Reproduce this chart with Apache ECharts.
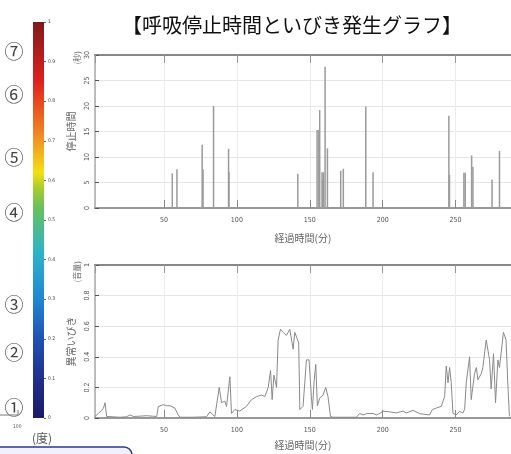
<!DOCTYPE html>
<html>
<head>
<meta charset="utf-8">
<script src="https://cdn.jsdelivr.net/npm/echarts@6/dist/echarts.min.js"></script>
<style>html,body{margin:0;padding:0;background:#fff;}#c{width:511px;height:454px;}</style>
</head>
<body>
<div id="c"></div>
<script>
// ---- data ----
const titleText = '【呼吸停止時間といびき発生グラフ】';
const apneaTime = [55.7, 58.9, 76.2, 76.8, 84.0, 94.3, 94.6, 141.8, 155.0, 156.2, 156.8, 158.4, 158.9, 159.4, 160.5, 162.1, 171.2, 173.0, 188.4, 193.4, 245.4, 245.8, 255.7, 256.6, 261.0, 261.9, 275.0, 280.1];
const apneaSec  = [6.8, 7.6, 12.4, 7.6, 20.0, 11.6, 7.0, 6.7, 15.3, 15.3, 19.2, 7.0, 5.6, 7.0, 27.7, 11.7, 7.3, 7.7, 19.9, 7.0, 18.1, 6.5, 6.9, 6.9, 10.3, 8.1, 5.6, 11.2];
const snoreTime = [2.7,5,7.3,8.5,9.6,10.7,11.9,20,24.4,26.7,29,33.5,38,42,45,46.1,49.5,51.8,54.1,57.5,59.8,61,70,79.2,81.5,84.9,87.9,89.5,91.8,92.9,95.2,96.3,98.6,102,106.6,110,113.5,116.9,119.2,121.5,123.1,124.2,125.4,127.2,128.3,129.9,131.8,134,136.3,137.4,138.6,139.7,141.3,142.4,143.2,145.4,147.7,149.5,151.1,151.8,152.9,154.1,155.2,156.8,159.1,160.9,162.5,164.2,165.9,182,184.2,186.5,188.8,193.4,195.7,198,200.2,204.8,209.4,214,216.2,220.8,225.4,232.2,234,236.8,240.2,242.5,243.6,244.8,245.9,247,248.2,250.5,252.7,255,256.2,257.3,259.6,260.7,263,264.2,265.3,267.6,268.7,271,273.3,274.4,276,277.4,279,280.1,281.2,282.8,284.6,285.8,286.9];
const snoreLevel = [0.01,0.03,0.05,0.065,0.10,0.01,0.005,0.005,0.008,0.02,0.01,0.012,0.015,0.012,0.01,0.075,0.087,0.08,0.08,0.065,0.02,0.005,0.005,0.008,0.04,0.01,0.2,0.1,0.11,0.075,0.27,0.03,0.055,0.045,0.076,0.12,0.14,0.15,0.14,0.2,0.31,0.12,0.28,0.2,0.51,0.58,0.56,0.54,0.58,0.59,0.45,0.56,0.52,0.49,0.055,0.076,0.38,0.38,0.14,0.055,0.23,0.35,0.08,0.13,0.15,0.2,0.14,0.01,0.005,0.005,0.03,0.02,0.028,0.03,0.02,0.03,0.045,0.04,0.033,0.045,0.033,0.05,0.028,0.02,0.055,0.065,0.076,0.14,0.34,0.23,0.33,0.23,0.03,0.02,0.043,0.033,0.055,0.23,0.4,0.12,0.29,0.33,0.25,0.29,0.33,0.51,0.38,0.19,0.42,0.1,0.38,0.33,0.42,0.56,0.51,0.23,0.01];
const postureLabels = ['①','②','③','④','⑤','⑥','⑦'];
const colorbarTicks = [0, 1];

const labelFont = 'DejaVu Sans Condensed';
const jpFont = 'Noto Sans CJK JP';

const chart = echarts.init(document.getElementById('c'), null, {renderer: 'canvas'});

const postureY = [408, 353, 305, 213, 158, 95, 52];
const graphics = postureLabels.map((t, i) => ({
  type: 'text', x: 14, y: postureY[i],
  style: {text: t, font: '19px "' + jpFont + '"', fill: '#444', align: 'center', verticalAlign: 'middle'}
}));
graphics.push(
  {type: 'text', left: 73, top: 51, rotation: Math.PI/2, style: {text: '(秒)', font: '8px "' + jpFont + '"', fill: '#666'}},
  {type: 'text', left: 73, top: 261, rotation: Math.PI/2, style: {text: '(音量)', font: '8px "' + jpFont + '"', fill: '#666'}},
  {type: 'line', shape: {x1: 0, y1: 415, x2: 18, y2: 415}, style: {stroke: '#777', lineWidth: 1}},
  {type: 'line', shape: {x1: 18, y1: 415, x2: 18, y2: 410}, style: {stroke: '#777', lineWidth: 1}},
  {type: 'text', left: 13, top: 424, style: {text: '100', font: '5px "' + labelFont + '"', fill: '#555'}},
  {type: 'text', left: 32, top: 432, style: {text: '(度)', font: '12px "' + jpFont + '"', fill: '#555'}},
  {type: 'rect', shape: {x: -10, y: 447, width: 142, height: 20, r: 8}, style: {fill: '#f0f0fe', stroke: '#2b3a92', lineWidth: 1.5}}
);

const axisLabelStyle = {fontSize: 7, color: '#555', fontFamily: labelFont};

chart.setOption({
  animation: false,
  backgroundColor: '#fff',
  title: {text: titleText, left: 287, top: 10, textAlign: 'center',
    textStyle: {fontSize: 20, fontWeight: 'normal', color: '#111', fontFamily: jpFont}},
  grid: [
    {left: 95, top: 55, right: 0, height: 153},
    {left: 95, top: 265, right: 0, height: 153},
    {left: 33, top: 22, width: 11, height: 396}
  ],
  xAxis: [
    {gridIndex: 0, type: 'value', min: 2.7, max: 288, position: 'bottom',
      axisLine: {show: true, lineStyle: {color: '#999', width: 2}},
      axisTick: {show: true, inside: true, length: 8, lineStyle: {color: '#888'}},
      splitLine: {show: true, lineStyle: {color: '#ececec'}},
      axisLabel: Object.assign({margin: 9, showMinLabel: false, showMaxLabel: false}, axisLabelStyle),
      name: '経過時間(分)', nameLocation: 'middle', nameGap: 25,
      nameTextStyle: {fontSize: 10, color: '#666', fontFamily: jpFont}},
    {gridIndex: 0, type: 'value', min: 2.7, max: 288, position: 'top',
      axisLine: {show: true, lineStyle: {color: '#888', width: 2}},
      axisTick: {show: true, inside: true, length: 8, lineStyle: {color: '#999'}},
      splitLine: {show: false}, axisLabel: {show: false}},
    {gridIndex: 1, type: 'value', min: 2.7, max: 288, position: 'bottom',
      axisLine: {show: true, lineStyle: {color: '#999', width: 2}},
      axisTick: {show: true, inside: true, length: 8, lineStyle: {color: '#888'}},
      splitLine: {show: true, lineStyle: {color: '#ececec'}},
      axisLabel: Object.assign({margin: 9, showMinLabel: false, showMaxLabel: false}, axisLabelStyle),
      name: '経過時間(分)', nameLocation: 'middle', nameGap: 22,
      nameTextStyle: {fontSize: 10, color: '#666', fontFamily: jpFont}},
    {gridIndex: 1, type: 'value', min: 2.7, max: 288, position: 'top',
      axisLine: {show: true, lineStyle: {color: '#888', width: 2}},
      axisTick: {show: true, inside: true, length: 8, lineStyle: {color: '#999'}},
      splitLine: {show: false}, axisLabel: {show: false}},
    {gridIndex: 2, type: 'category', data: ['c'], show: false}
  ],
  yAxis: [
    {gridIndex: 0, type: 'value', min: 0, max: 30, interval: 5,
      axisLine: {show: true, lineStyle: {color: '#aaa', width: 1.5}},
      axisTick: {show: true, inside: true, length: 4, lineStyle: {color: '#555'}},
      splitLine: {show: true, lineStyle: {color: '#e6e6e6'}},
      axisLabel: Object.assign({margin: 4, rotate: 90}, axisLabelStyle),
      name: '停止時間', nameLocation: 'middle', nameRotate: 90, nameGap: 13,
      nameTextStyle: {fontSize: 10, color: '#666', fontFamily: jpFont}},
    {gridIndex: 1, type: 'value', min: 0, max: 1, interval: 0.2,
      axisLine: {show: true, lineStyle: {color: '#aaa', width: 1.5}},
      axisTick: {show: true, inside: true, length: 4, lineStyle: {color: '#555'}},
      splitLine: {show: true, lineStyle: {color: '#e6e6e6'}},
      axisLabel: Object.assign({margin: 4, rotate: 90}, axisLabelStyle),
      name: '異常いびき', nameLocation: 'middle', nameRotate: 90, nameGap: 13,
      nameTextStyle: {fontSize: 10, color: '#666', fontFamily: jpFont}},
    {gridIndex: 2, type: 'value', min: colorbarTicks[0], max: colorbarTicks[1], interval: 0.1, position: 'right',
      axisLine: {show: false},
      axisTick: {show: true, length: 2, lineStyle: {color: '#666'}},
      splitLine: {show: false},
      axisLabel: {fontSize: 5, color: '#444', fontFamily: labelFont, margin: 4}}
  ],
  series: [
    {type: 'bar', xAxisIndex: 0, yAxisIndex: 0, barWidth: 1.5, barGap: '-100%',
      itemStyle: {color: '#9a9a9a'},
      data: apneaTime.map((t, i) => [t, apneaSec[i]])},
    {type: 'line', xAxisIndex: 2, yAxisIndex: 1, symbol: 'none',
      lineStyle: {color: '#8a8a8a', width: 1},
      data: snoreTime.map((t, i) => [t, snoreLevel[i]])},
    {type: 'bar', xAxisIndex: 4, yAxisIndex: 2, barWidth: '100%',
      itemStyle: {color: {type: 'linear', x: 0, y: 1, x2: 0, y2: 0, colorStops: [
        {offset: 0, color: '#1c1c64'},
        {offset: 0.08, color: '#1f2a86'},
        {offset: 0.2, color: '#2150b4'},
        {offset: 0.3, color: '#1f86d2'},
        {offset: 0.42, color: '#2fb4c8'},
        {offset: 0.53, color: '#66c05c'},
        {offset: 0.58, color: '#a6cc30'},
        {offset: 0.62, color: '#f2e012'},
        {offset: 0.72, color: '#f08424'},
        {offset: 0.85, color: '#e0201e'},
        {offset: 1, color: '#7e1a1a'}
      ]}},
      data: [colorbarTicks[1]]}
  ],
  graphic: graphics
});
</script>
</body>
</html>
